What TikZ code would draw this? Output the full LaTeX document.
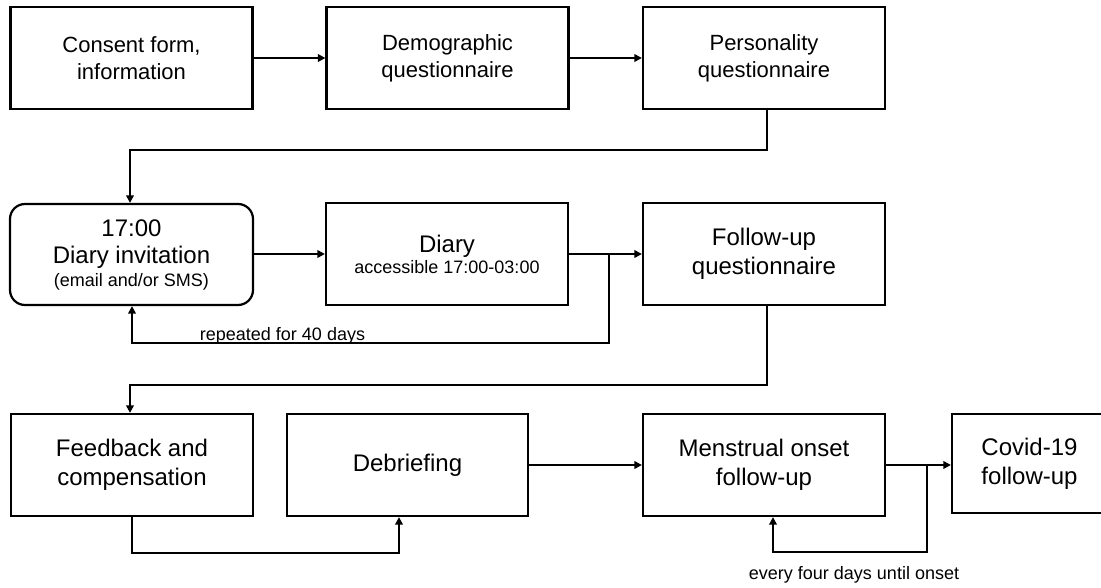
\documentclass[tikz,border=0pt]{standalone}
\usepackage{fontspec}
\setmainfont{Liberation Sans}
\usetikzlibrary{arrows.meta}
\begin{document}
\begin{tikzpicture}[x=1pt,y=-1pt,
  box/.style={draw,line width=2.2pt,inner sep=0pt,align=center,minimum width=242pt,minimum height=102pt},
  topfont/.style={font=\fontsize{22}{27}\selectfont},
  midfont/.style={font=\fontsize{24}{29}\selectfont},
  conn/.style={line width=2pt},
  arr/.style={conn,-{Triangle[length=7.5pt,width=7.5pt]}},
  lbl/.style={font=\fontsize{18}{22}\selectfont,inner sep=0pt}]
\useasboundingbox (0,0) rectangle (1101,588);
% row 1
\node[box,topfont] (b1) at (131.5,58) {Consent form,\\information};
\node[box,topfont] (b2) at (447.5,58) {Demographic\\questionnaire};
\node[box,topfont] (b3) at (764,58) {Personality\\questionnaire};
% row 2
\node[box,rounded corners=15pt,minimum width=243pt,minimum height=101pt,font=\fontsize{24}{27}\selectfont] (r) at (131.5,254.5)
  {17:00\\Diary invitation\\[-4pt]\fontsize{18}{22}\selectfont (email and/or SMS)};
\node[box,font=\fontsize{24}{27}\selectfont] (d) at (447,254) {Diary\\[-6pt]\fontsize{18}{22}\selectfont accessible 17:00-03:00};
\node[box,midfont] (f) at (764,254) {Follow-up\\questionnaire};
% row 3
\node[box,midfont] (fb) at (132,465) {Feedback and\\compensation};
\node[box,midfont,minimum width=241pt] (deb) at (407.5,465) {Debriefing};
\node[box,midfont] (men) at (764,465) {Menstrual onset\\follow-up};
\node[box,midfont,minimum width=155pt,minimum height=99pt] (cov) at (1029.5,463.5) {Covid-19\\follow-up};
% coordinates
\coordinate (v1) at (767,0);
\coordinate (c1) at (130,150.5);
\coordinate (j1) at (609,254);
\coordinate (l1) at (132,343);
\coordinate (c2) at (130,385);
\coordinate (l2) at (399,553);
\coordinate (j2) at (927,465);
\coordinate (l3) at (773,552);
% connectors
\draw[arr] (b1.east) -- (b2.west);
\draw[arr] (b2.east) -- (b3.west);
\draw[arr] (b3.south -| v1) |- (c1) -- (r.north -| c1);
\draw[arr] (r.east |- d.center) -- (d.west);
\draw[arr] (d.east) -- (d.east -| f.west);
\draw[arr] (j1) |- (l1) -- (r.south -| l1);
\draw[arr] (f.south -| v1) |- (c2) -- (fb.north -| c2);
\draw[arr] (fb.south) |- (l2) -- (deb.south -| l2);
\draw[arr] (deb.east) -- (men.west);
\draw[arr] (men.east) -- (men.east -| cov.west);
\draw[arr] (j2) |- (l3) -- (men.south -| l3);
% labels
\node[lbl,anchor=base] (t1) at (282.5,341) {repeated for 40 days};
\node[lbl,anchor=base] (t2) at (854,579) {every four days until onset};
\end{tikzpicture}
\end{document}
